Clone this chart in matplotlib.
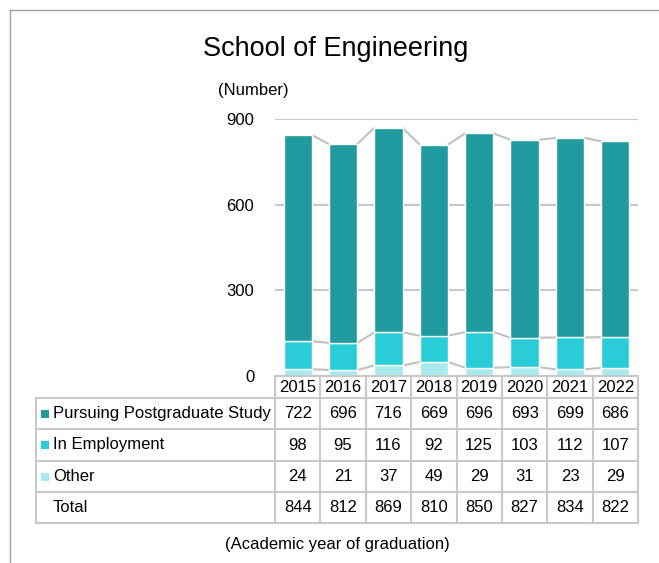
import numpy as np
import matplotlib.pyplot as plt
from matplotlib.lines import Line2D
from matplotlib.patches import Rectangle
import matplotlib.transforms as mtransforms

plt.rcParams['font.family'] = ['Liberation Sans', 'DejaVu Sans']

years = ["2015", "2016", "2017", "2018", "2019", "2020", "2021", "2022"]
postgrad = [722, 696, 716, 669, 696, 693, 699, 686]
employment = [98, 95, 116, 92, 125, 103, 112, 107]
other = [24, 21, 37, 49, 29, 31, 23, 29]
series_names = ["Pursuing Postgraduate Study", "In Employment", "Other"]
colors = ["#209ba0", "#29cdd7", "#a8eaee"]

W, H = 659, 563
fig = plt.figure(figsize=(W / 100, H / 100), dpi=100)

# pixel position (from top-left) -> figure fraction
def fy(py):
    return 1 - py / H

def fx(px):
    return px / W

ax = fig.add_axes([fx(275), fy(376), fx(638) - fx(275), fy(119) - fy(376)])

x = np.arange(len(years))
other_a = np.array(other)
emp_a = np.array(employment)
pg_a = np.array(postgrad)
total = other_a + emp_a + pg_a
bw = 0.62
ax.bar(x, other_a, bw, color=colors[2], edgecolor="white", linewidth=1, zorder=3)
ax.bar(x, emp_a, bw, bottom=other_a, color=colors[1], edgecolor="white", linewidth=1, zorder=3)
ax.bar(x, pg_a, bw, bottom=other_a + emp_a, color=colors[0], edgecolor="white", linewidth=1, zorder=3)

# connector lines between segment tops of neighbouring bars
for level in [other_a, other_a + emp_a, total]:
    for i in range(len(x) - 1):
        ax.plot([x[i] + bw / 2, x[i + 1] - bw / 2], [level[i], level[i + 1]],
                color="#c0c0c0", lw=1.5, zorder=2, solid_capstyle="butt")

ax.set_xlim(-0.5, len(years) - 0.5)
ax.set_ylim(0, 900)
ax.set_yticks([0, 300, 600, 900])
ax.yaxis.grid(True, color="#c8c8c8", lw=1.5, zorder=0)
ax.set_axisbelow(True)
ax.set_xticks([])
ax.tick_params(axis="y", length=0, pad=15, labelsize=12)
for s in ax.spines.values():
    s.set_visible(False)

# table under the chart, columns follow the bar axis
tr = mtransforms.blended_transform_factory(ax.transData, fig.transFigure)
trf = fig.transFigure
line_c = "#c8c8c8"
col_edges = np.arange(len(years) + 1) - 0.5
head_top, head_bot = fy(376), fy(398)
row_edges = [fy(398), fy(429), fy(461), fy(492), fy(523)]
label_left = fx(36)
x_right = fx(638)

# header row with the years
for e in col_edges:
    fig.add_artist(Line2D([e, e], [head_bot, head_top], transform=tr, color=line_c, lw=1.5))
fig.add_artist(Line2D([col_edges[0], col_edges[-1]], [head_top, head_top], transform=tr, color=line_c, lw=1.5))
for i, yr in enumerate(years):
    fig.text(x[i], (head_top + head_bot) / 2 - 1 / H, yr, transform=tr, ha="center", va="center", fontsize=12)

# body rows
rows = [postgrad, employment, other, list(total)]
labels = series_names + ["Total"]
for r in row_edges:
    fig.add_artist(Line2D([label_left, x_right], [r, r], transform=trf, color=line_c, lw=1.5))
for e in col_edges:
    fig.add_artist(Line2D([e, e], [row_edges[-1], row_edges[0]], transform=tr, color=line_c, lw=1.5))
fig.add_artist(Line2D([label_left, label_left], [row_edges[-1], row_edges[0]], transform=trf, color=line_c, lw=1.5))

for k, (lab, vals) in enumerate(zip(labels, rows)):
    yc = (row_edges[k] + row_edges[k + 1]) / 2
    if k < 3:
        fig.add_artist(Rectangle((fx(41), yc - 4 / H), 8 / W, 8 / H, transform=trf,
                                 color=colors[k], lw=0))
    fig.text(fx(53), yc, lab, ha="left", va="center", fontsize=12)
    for i, v in enumerate(vals):
        fig.text(x[i], yc, str(v), transform=tr, ha="center", va="center", fontsize=12)

fig.text(fx(336), fy(49), "School of Engineering", ha="center", va="center", fontsize=19.5)
fig.text(fx(253), fy(91), "(Number)", ha="center", va="center", fontsize=12)
fig.text(fx(337), fy(544), "(Academic year of graduation)", ha="center", va="center", fontsize=12)

# frame of the image (top and left only)
fig.add_artist(Line2D([fx(10), 1], [fy(10), fy(10)], transform=trf, color="#a0a0a0", lw=1))
fig.add_artist(Line2D([fx(10), fx(10)], [fy(10), 0], transform=trf, color="#a0a0a0", lw=1))

fig.savefig("out.png", dpi=100)
